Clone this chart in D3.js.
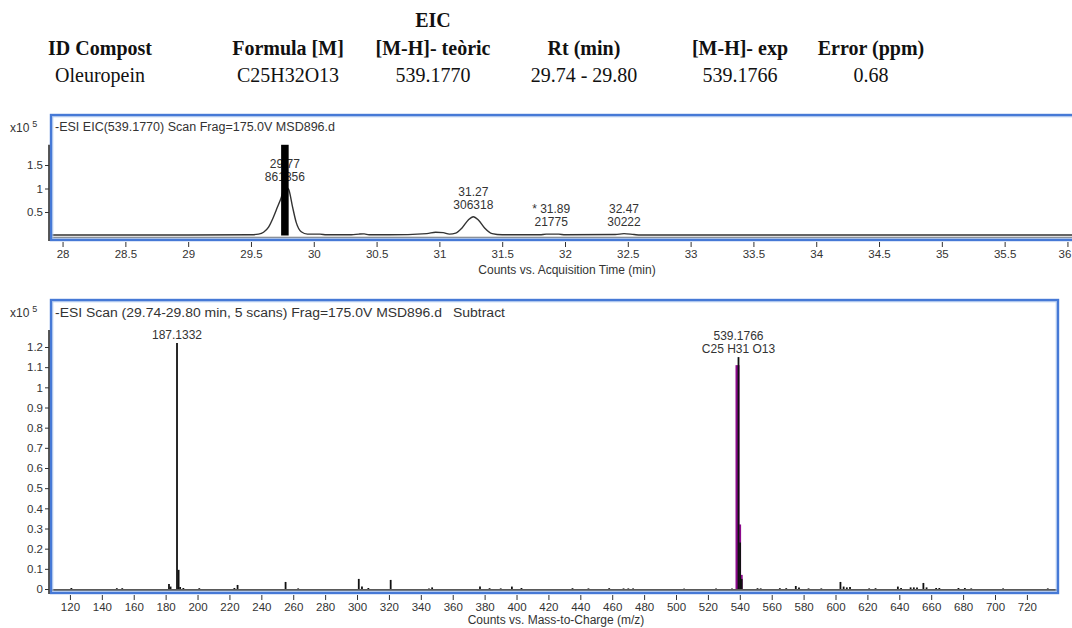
<!DOCTYPE html>
<html><head><meta charset="utf-8">
<script src="https://cdn.jsdelivr.net/npm/d3@7/dist/d3.min.js"></script>
<style>
body{margin:0;background:#fff}
svg{display:block}
.ax text{font-family:"Liberation Sans",Arial,sans-serif;font-size:11.5px;fill:#333}
.lab{font-family:"Liberation Sans",Arial,sans-serif;font-size:12px;fill:#333}
.hd{font-family:"Liberation Serif","Times New Roman",serif;font-size:20px;fill:#111}
</style></head><body>
<svg id="c" width="1072" height="628"></svg>
<script>
// ---- header table ----
const headCols = ["ID Compost","Formula [M]","[M-H]- teòric","Rt (min)","[M-H]- exp","Error (ppm)"];
const headVals = ["Oleuropein","C25H32O13","539.1770","29.74 - 29.80","539.1766","0.68"];
const headGroup = "EIC";

// ---- EIC chromatogram (x10^5 counts) ----
const eicTime = [27.9,28.5,29.0,29.5,29.56,29.60,29.64,29.68,29.71,29.74,29.77,29.80,29.83,29.86,29.90,29.95,30.05,30.10,30.30,30.36,30.40,30.44,30.60,30.90,30.97,31.03,31.08,31.13,31.18,31.23,31.27,31.31,31.36,31.42,31.50,31.80,31.85,31.95,32.00,32.40,32.47,32.55,32.60,36.1];
const eicVal  = [0.01,0.01,0.01,0.015,0.03,0.07,0.18,0.4,0.6,0.8,1.05,0.98,0.62,0.28,0.08,0.03,0.03,0.015,0.015,0.03,0.035,0.015,0.015,0.04,0.07,0.06,0.03,0.05,0.16,0.33,0.4,0.33,0.16,0.04,0.015,0.015,0.03,0.03,0.015,0.02,0.04,0.02,0.01,0.01];
const eicPeakRt   = [29.77, 31.27, 31.89, 32.47];
const eicPeakTop  = [0.98, 0.4, 0.03, 0.04];
const eicPeakRtLab = ["29.77","31.27","* 31.89","32.47"];
const eicPeakArea = ["861356","306318","21775","30222"];
const eicScanRange = [29.74, 29.80];
const eicXTicks = [28,28.5,29,29.5,30,30.5,31,31.5,32,32.5,33,33.5,34,34.5,35,35.5,36];
const eicYTicks = [0.5,1,1.5];

// ---- MS spectrum (x10^5 counts) ----
const msMz  = [120.9,149.4,152.8,182.1,183.1,187.1332,188.14,189.1,191.1,201.1,223.1,225.1,255.2,263.1,301.1,303.1,307.1,321.1,345.1,347.1,377.1,383.1,390.1,397.1,403.1,435.1,445.1,458.1,467.1,470.1,473.1,505.1,525.1,535.1,539.1766,540.18,541.18,551.1,553.1,565.1,569.1,575.1,577.1,583.1,591.1,603.1,605.1,607.1,609.1,621.1,625.1,639.1,641.1,647.1,649.1,651.1,655.1,657.1,663.1,665.1,677.1,681.1,685.1,705.1,733.1];
const msInt = [0.005,0.004,0.004,0.025,0.012,1.22,0.095,0.01,0.005,0.004,0.005,0.02,0.035,0.003,0.05,0.012,0.005,0.045,0.003,0.008,0.012,0.004,0.003,0.012,0.005,0.004,0.003,0.004,0.003,0.003,0.003,0.002,0.002,0.003,1.15,0.23,0.05,0.004,0.003,0.004,0.004,0.015,0.008,0.003,0.003,0.035,0.012,0.008,0.01,0.003,0.004,0.012,0.005,0.008,0.008,0.008,0.03,0.008,0.005,0.005,0.005,0.005,0.003,0.003,0.003];
const isoMz  = [539.18, 540.18, 541.18];
const isoInt = [1.11, 0.32, 0.07];
const msLabMz = [187.1332, 539.1766];
const msLabs = [["187.1332"],["539.1766","C25 H31 O13"]];
const msXTicks = [120,140,160,180,200,220,240,260,280,300,320,340,360,380,400,420,440,460,480,500,520,540,560,580,600,620,640,660,680,700,720];
const msYTicks = [0,0.1,0.2,0.3,0.4,0.5,0.6,0.7,0.8,0.9,1,1.1,1.2];

const svg = d3.select("#c");
const BLUE = "#4679d6", LIGHT = "#b3cbf0", INK = "#333";

// ---- header ----
const hx = [100, 288, 433, 584, 740, 871];
svg.append("text").attr("class","hd").attr("x",433).attr("y",27).attr("text-anchor","middle").attr("font-weight","bold").text(headGroup);
headCols.forEach((t,i)=>svg.append("text").attr("class","hd").attr("x",hx[i]).attr("y",55).attr("text-anchor","middle").attr("font-weight","bold").text(t));
headVals.forEach((t,i)=>svg.append("text").attr("class","hd").attr("x",hx[i]).attr("y",82).attr("text-anchor","middle").text(t));

function frame(x0,y0,x1,y1){
  svg.append("rect").attr("x",x0+1.8).attr("y",y0+1.8).attr("width",x1-x0-3.6).attr("height",y1-y0-3.6).attr("fill","none").attr("stroke",LIGHT).attr("stroke-width",1);
  svg.append("rect").attr("x",x0).attr("y",y0).attr("width",x1-x0).attr("height",y1-y0).attr("fill","none").attr("stroke",BLUE).attr("stroke-width",2.4);
}
function scaleLabel(y){
  const t = svg.append("text").attr("class","lab").attr("x",10).attr("y",y);
  t.append("tspan").text("x10");
  t.append("tspan").attr("dx",3).attr("dy",-5).attr("font-size","9px").text("5");
}

// ================= TOP: EIC =================
const xT = d3.scaleLinear().domain([27.9,36.1]).range([50,1080]);
const yT = d3.scaleLinear().domain([0,1.5]).range([235.5,165]);
const tFrame = {x0:51,y0:115,x1:1090,y1:240};

svg.append("line").attr("x1",50).attr("x2",1072).attr("y1",237.5).attr("y2",237.5).attr("stroke","#777").attr("stroke-width",1.5);
const eicLine = d3.line().x((d,i)=>xT(eicTime[i])).y((d,i)=>yT(eicVal[i])).curve(d3.curveMonotoneX);
svg.append("path").attr("d",eicLine(eicTime)).attr("fill","none").attr("stroke",INK).attr("stroke-width",1.4);

eicPeakRt.forEach((rt,i)=>{
  const x = xT(rt), yy = yT(eicPeakTop[i]) - 8;
  svg.append("text").attr("class","lab").attr("x",x).attr("y",yy-13).attr("text-anchor","middle").text(eicPeakRtLab[i]);
  svg.append("text").attr("class","lab").attr("x",x).attr("y",yy).attr("text-anchor","middle").text(eicPeakArea[i]);
});
svg.append("rect").attr("x",xT(eicScanRange[0])).attr("width",xT(eicScanRange[1])-xT(eicScanRange[0]))
  .attr("y",yT(1.93)).attr("height",yT(0)-yT(1.93)).attr("fill","#000");

frame(tFrame.x0,tFrame.y0,tFrame.x1,tFrame.y1);
svg.append("text").attr("class","lab").attr("x",55).attr("y",131).attr("textLength",280).attr("lengthAdjust","spacingAndGlyphs").text("-ESI EIC(539.1770) Scan Frag=175.0V MSD896.d");
scaleLabel(132);

svg.append("line").attr("x1",49).attr("x2",49).attr("y1",yT(1.93)).attr("y2",241).attr("stroke","#222").attr("stroke-width",1.5);
const yAxT = svg.append("g").attr("class","ax").attr("transform","translate(49,0)")
  .call(d3.axisLeft(yT).tickValues(eicYTicks).tickSize(4).tickPadding(2).tickFormat(d=>String(d)));
yAxT.select(".domain").remove();
yAxT.selectAll("line").attr("stroke",INK);
const xAxT = svg.append("g").attr("class","ax").attr("transform","translate(0,242)")
  .call(d3.axisBottom(xT).tickValues(eicXTicks).tickSize(5).tickPadding(3).tickFormat(d=>String(d)));
xAxT.select(".domain").remove();
xAxT.selectAll("line").attr("stroke",INK);
xAxT.selectAll("text").filter(d=>d===36).attr("dx",-3);
svg.append("text").attr("class","lab").attr("x",567).attr("y",274).attr("text-anchor","middle").attr("font-size","11.5px").text("Counts vs. Acquisition Time (min)");

// ================= BOTTOM: MS =================
const xB = d3.scaleLinear().domain([107.5,739.5]).range([50,1058]);
const yB = d3.scaleLinear().domain([0,1.2]).range([589,347]);
const bFrame = {x0:51,y0:300,x1:1058,y1:593};

svg.append("line").attr("x1",50).attr("x2",1058).attr("y1",590).attr("y2",590).attr("stroke","#222").attr("stroke-width",1.5);
svg.selectAll(".iso").data(isoMz).enter().append("rect").attr("class","iso")
  .attr("x",d=>xB(d)-3).attr("width",4)
  .attr("y",(d,i)=>yB(isoInt[i])).attr("height",(d,i)=>yB(0)-yB(isoInt[i]))
  .attr("fill","#8b0a8b");
svg.selectAll(".stick").data(msMz).enter().append("line").attr("class","stick")
  .attr("x1",d=>xB(d)).attr("x2",d=>xB(d))
  .attr("y1",yB(0)).attr("y2",(d,i)=>yB(msInt[i]))
  .attr("stroke","#111").attr("stroke-width",1.8);

msLabMz.forEach((mz,i)=>{
  const top = yB(msInt[msMz.indexOf(mz)]);
  const lines = msLabs[i];
  lines.forEach((t,j)=>{
    svg.append("text").attr("class","lab").attr("x",xB(mz)).attr("y",top-4-(lines.length-1-j)*13).attr("text-anchor","middle").text(t);
  });
});

frame(bFrame.x0,bFrame.y0,bFrame.x1,bFrame.y1);
svg.append("text").attr("class","lab").attr("x",55).attr("y",317).attr("textLength",387).attr("lengthAdjust","spacingAndGlyphs").text("-ESI Scan (29.74-29.80 min, 5 scans) Frag=175.0V MSD896.d");
svg.append("text").attr("class","lab").attr("x",453).attr("y",317).attr("textLength",52).attr("lengthAdjust","spacingAndGlyphs").text("Subtract");
scaleLabel(317);

svg.append("line").attr("x1",49).attr("x2",49).attr("y1",330).attr("y2",594).attr("stroke","#222").attr("stroke-width",1.5);
const yAxB = svg.append("g").attr("class","ax").attr("transform","translate(49,0)")
  .call(d3.axisLeft(yB).tickValues(msYTicks).tickSize(4).tickPadding(2).tickFormat(d=>String(d)));
yAxB.select(".domain").remove();
yAxB.selectAll("line").attr("stroke",INK);
const xAxB = svg.append("g").attr("class","ax").attr("transform","translate(0,595)")
  .call(d3.axisBottom(xB).tickValues(msXTicks).tickSize(5).tickPadding(3).tickFormat(d=>String(d)));
xAxB.select(".domain").remove();
xAxB.selectAll("line").attr("stroke",INK);
svg.append("text").attr("class","lab").attr("x",556).attr("y",624).attr("text-anchor","middle").attr("font-size","11.5px").text("Counts vs. Mass-to-Charge (m/z)");
</script>
</body></html>
